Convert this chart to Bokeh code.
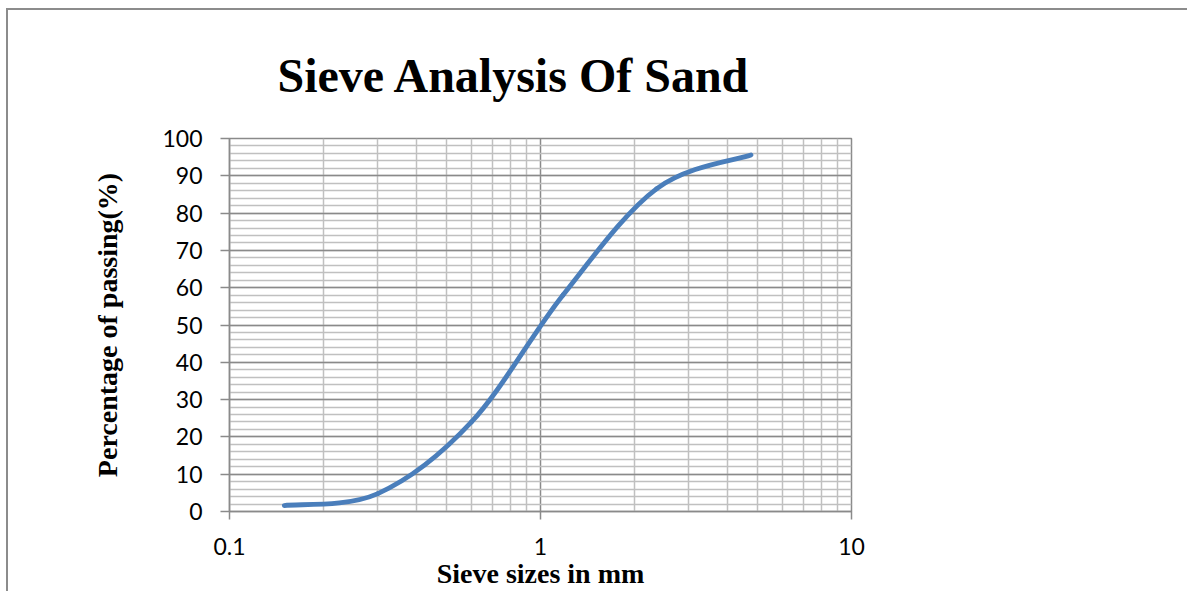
import numpy as np
from bokeh.plotting import figure
from bokeh.models import FixedTicker, CustomJSTickFormatter, ColumnDataSource, Range1d
from bokeh.embed import file_html
from bokeh.resources import INLINE

# ---- data ----
sieve_sizes = [0.15, 0.3, 0.6, 1.18, 2.36, 4.75]
percent_passing = [1.6, 4.8, 24.0, 58.0, 86.5, 95.6]
x_ticks = [0.1, 1, 10]
y_ticks = list(range(0, 101, 10))
title_text = "Sieve Analysis Of Sand"
x_label = "Sieve sizes in mm"
y_label = "Percentage of passing(%)"

GRID_MAJOR = "#8A8A8A"
GRID_MINOR = "#C0C0C0"
LINE_COLOR = "#4A7EBB"

p = figure(frame_width=622, frame_height=373, x_axis_type="log",
           x_range=Range1d(0.1, 10), y_range=Range1d(0, 100),
           output_backend="svg", toolbar_location=None,
           min_border_left=221, min_border_right=336,
           min_border_top=128, min_border_bottom=78)
p.styles = {"border-top": "2px solid #8C8C8C", "border-left": "2px solid #8C8C8C",
            "margin-left": "6px", "margin-top": "8px"}
p.background_fill_color = "white"
p.border_fill_color = "white"
p.outline_line_color = GRID_MAJOR
p.outline_line_width = 1.5

# title
p.title.text = title_text
p.title.align = "left"
p.title.offset = 48
p.title.standoff = 73
p.title.text_font = "Liberation Serif"
p.title.text_font_style = "bold"
p.title.text_font_size = "48px"
p.title.text_color = "black"

# tickers
x_minor = [m * d for d in (0.1, 1) for m in range(2, 10)]
y_minor = list(range(0, 101, 2))
p.xaxis.ticker = FixedTicker(ticks=x_ticks, minor_ticks=x_minor)
p.yaxis.ticker = FixedTicker(ticks=y_ticks, minor_ticks=y_minor)
p.xaxis.formatter = CustomJSTickFormatter(code="return tick.toString();")

for ax in (p.xaxis, p.yaxis):
    ax.axis_line_color = GRID_MAJOR
    ax.axis_line_width = 1.5
    ax.major_tick_line_color = GRID_MAJOR
    ax.major_tick_line_width = 1.5
    ax.major_tick_in = 0
    ax.minor_tick_in = 0
    ax.minor_tick_out = 0
    ax.major_label_text_font = "Lato"
    ax.major_label_text_font_size = "23px"
    ax.major_label_text_color = "black"
    ax.axis_label_text_font = "Liberation Serif"
    ax.axis_label_text_font_style = "bold"
    ax.axis_label_text_font_size = "28px"
    ax.axis_label_text_color = "black"
p.xaxis.major_tick_out = 8
p.yaxis.major_tick_out = 9
p.xaxis.major_label_standoff = 18
p.yaxis.major_label_standoff = 18
p.xaxis.axis_label = x_label
p.yaxis.axis_label = y_label
p.xaxis.axis_label_standoff = 0
p.yaxis.axis_label_standoff = 36

for g in (p.xgrid, p.ygrid):
    g.grid_line_color = GRID_MAJOR
    g.grid_line_width = 1.5
    g.minor_grid_line_color = GRID_MINOR
    g.minor_grid_line_width = 1.5

# smooth curve via cubic Bezier segments (Catmull-Rom style control points in log-x space)
lx = np.log10(np.array(sieve_sizes))
yy = np.array(percent_passing)
P = np.column_stack([lx, yy])
Pe = np.vstack([P[0], P, P[-1]])
x0, y0, x1, y1, cx0, cy0, cx1, cy1 = ([] for _ in range(8))
for i in range(len(P) - 1):
    a, b, c, d = Pe[i], Pe[i + 1], Pe[i + 2], Pe[i + 3]
    c1 = b + (c - a) / 6.0
    c2 = c - (d - b) / 6.0
    x0.append(10 ** b[0]); y0.append(b[1])
    x1.append(10 ** c[0]); y1.append(c[1])
    cx0.append(10 ** c1[0]); cy0.append(c1[1])
    cx1.append(10 ** c2[0]); cy1.append(c2[1])
src = ColumnDataSource(dict(x0=x0, y0=y0, x1=x1, y1=y1, cx0=cx0, cy0=cy0, cx1=cx1, cy1=cy1))
p.bezier(x0="x0", y0="y0", x1="x1", y1="y1", cx0="cx0", cy0="cy0", cx1="cx1", cy1="cy1",
         source=src, line_color=LINE_COLOR, line_width=4.8, line_cap="round")

open("out.html", "w").write(file_html(p, INLINE))
